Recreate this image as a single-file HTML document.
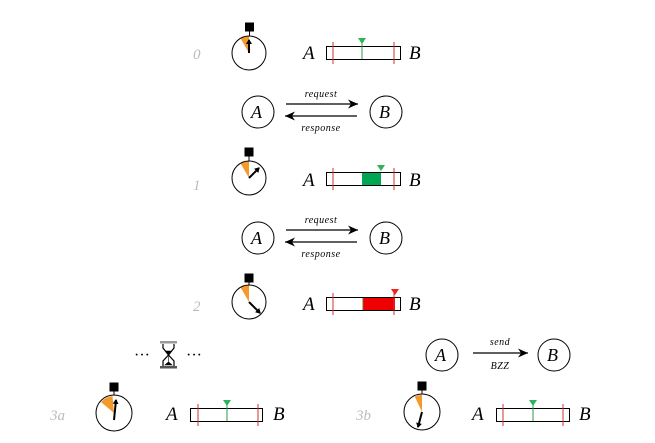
<!DOCTYPE html>
<html><head><meta charset="utf-8"><style>
html,body{margin:0;padding:0;background:#fff;}
svg{display:block;}
text{font-family:"Liberation Serif",serif;font-style:italic;}
</style></head><body>
<svg width="655" height="443" viewBox="0 0 655 443" xmlns="http://www.w3.org/2000/svg">
<defs>
<marker id="ah" markerWidth="12" markerHeight="10" refX="10" refY="5" orient="auto" markerUnits="userSpaceOnUse"><path d="M0,0.5 L10,5 L0,9.5 L3,5 Z" fill="#000"/></marker>
<marker id="hh" markerWidth="6" markerHeight="6" refX="4" refY="3" orient="auto" markerUnits="userSpaceOnUse"><path d="M0,0 L5,3 L0,6 Z" fill="#000"/></marker>
</defs>
<g fill="#bbb" font-size="15">
<text x="193" y="59">0</text><text x="193" y="190">1</text><text x="193" y="311">2</text>
<text x="50" y="420">3a</text><text x="356" y="420">3b</text>
</g>
<g stroke="#000" stroke-width="1">
<rect x="245.5" y="23" width="8" height="8" fill="#000"/><line x1="249.5" y1="31" x2="249.5" y2="36"/>
<path d="M249,53 L240.5,38.3 A17,17 0 0 1 249,36 Z" fill="#f39a2a" stroke="none"/>
<circle cx="249" cy="53" r="17" fill="none"/>
<line x1="249" y1="53" x2="249" y2="40" stroke-width="2" marker-end="url(#hh)"/>
<rect x="245" y="148" width="8" height="8" fill="#000"/><line x1="249" y1="156" x2="249" y2="161"/>
<path d="M249,178 L240.5,163.3 A17,17 0 0 1 249,161 Z" fill="#f39a2a" stroke="none"/>
<circle cx="249" cy="178" r="17" fill="none"/>
<line x1="249" y1="178" x2="259" y2="168" stroke-width="2" marker-end="url(#hh)"/>
<rect x="245" y="274" width="8" height="8" fill="#000"/><line x1="249" y1="282" x2="249" y2="285"/>
<path d="M249,302 L240.5,287.3 A17,17 0 0 1 249,285 Z" fill="#f39a2a" stroke="none"/>
<circle cx="249" cy="302" r="17" fill="none"/>
<line x1="249" y1="302" x2="260" y2="313" stroke-width="2" marker-end="url(#hh)"/>
<rect x="110" y="383" width="8" height="8" fill="#000"/><line x1="114" y1="391" x2="114" y2="395"/>
<path d="M114,413 L101,402.1 A17,17 0 0 1 112.5,396.1 Z" fill="#f39a2a" stroke="none"/>
<circle cx="114" cy="413" r="18" fill="none"/>
<line x1="114" y1="420" x2="116" y2="400" stroke-width="2" marker-end="url(#hh)"/>
<rect x="418" y="382" width="8" height="8" fill="#000"/><line x1="422" y1="390" x2="422" y2="394"/>
<path d="M422,412 L414.8,396.6 A17,17 0 0 1 422,395 Z" fill="#f39a2a" stroke="none"/>
<circle cx="422" cy="412" r="18" fill="none"/>
<line x1="422" y1="412" x2="418" y2="427" stroke-width="2" marker-end="url(#hh)"/>
</g>
<g font-size="19" fill="#000">
<text x="303" y="59">A</text><text x="409" y="59">B</text>
<text x="303" y="186">A</text><text x="409" y="186">B</text>
<text x="303" y="310">A</text><text x="409" y="310">B</text>
<text x="166" y="420">A</text><text x="273" y="420">B</text>
<text x="472" y="420">A</text><text x="579" y="420">B</text>
</g>
<g stroke-width="1">
<rect x="326.5" y="46.5" width="74" height="13" fill="#fff" stroke="#000"/>
<line x1="362" y1="43" x2="362" y2="59" stroke="#2a9a4a"/>
<path d="M358,38 L366,38 L362,44 Z" fill="#2db35a"/>
<line x1="333" y1="42" x2="333" y2="64" stroke="#c33"/><line x1="394" y1="42" x2="394" y2="64" stroke="#c33"/>
<rect x="326.5" y="172.5" width="74" height="13" fill="#fff" stroke="#000"/>
<rect x="362" y="173" width="19" height="12" fill="#00a651"/>
<path d="M377,165 L385,165 L381,171 Z" fill="#2db35a"/>
<line x1="333" y1="168" x2="333" y2="190" stroke="#c33"/><line x1="394" y1="168" x2="394" y2="190" stroke="#c33"/>
<rect x="326.5" y="297.5" width="74" height="13" fill="#fff" stroke="#000"/>
<rect x="363" y="298" width="32" height="12" fill="#ee0000"/>
<line x1="363" y1="298" x2="363" y2="310" stroke="#8a6a00"/>
<path d="M391,289 L399,289 L395,295 Z" fill="#e22"/>
<line x1="333" y1="293" x2="333" y2="315" stroke="#c33"/><line x1="394" y1="293" x2="394" y2="315" stroke="#c33"/>
<rect x="190.5" y="408.5" width="72" height="13" fill="#fff" stroke="#000"/>
<line x1="227" y1="405" x2="227" y2="421" stroke="#2a9a4a"/>
<path d="M223,400 L231,400 L227,406 Z" fill="#2db35a"/>
<line x1="198" y1="404" x2="198" y2="426" stroke="#c33"/><line x1="258" y1="404" x2="258" y2="426" stroke="#c33"/>
<rect x="496.5" y="408.5" width="73" height="13" fill="#fff" stroke="#000"/>
<line x1="533" y1="405" x2="533" y2="421" stroke="#2a9a4a"/>
<path d="M529,400 L537,400 L533,406 Z" fill="#2db35a"/>
<line x1="503" y1="404" x2="503" y2="426" stroke="#c33"/><line x1="563" y1="404" x2="563" y2="426" stroke="#c33"/>
</g>
<g stroke="#000" fill="none" stroke-width="1">
<circle cx="258" cy="112" r="16"/><circle cx="386" cy="112" r="16"/>
<circle cx="258" cy="238" r="16"/><circle cx="386" cy="238" r="16"/>
<circle cx="442" cy="355" r="16"/><circle cx="554" cy="355" r="16"/>
</g>
<g stroke="#000" fill="none" stroke-width="1.3">
<line x1="286" y1="104" x2="358" y2="104" marker-end="url(#ah)"/>
<line x1="357" y1="116" x2="285" y2="116" marker-end="url(#ah)"/>
<line x1="286" y1="230" x2="358" y2="230" marker-end="url(#ah)"/>
<line x1="357" y1="242" x2="285" y2="242" marker-end="url(#ah)"/>
<line x1="473" y1="353" x2="528" y2="353" marker-end="url(#ah)"/>
</g>
<g font-size="18" fill="#000">
<text x="251" y="118">A</text><text x="379" y="118">B</text>
<text x="251" y="244">A</text><text x="379" y="244">B</text>
<text x="435" y="361">A</text><text x="547" y="361">B</text>
</g>
<g font-size="10" fill="#000" text-anchor="middle" letter-spacing="0.5">
<text x="321" y="97">request</text><text x="321" y="131">response</text>
<text x="321" y="223">request</text><text x="321" y="257">response</text>
<text x="500" y="345">send</text><text x="500" y="369">BZZ</text>
</g>
<g font-size="16" fill="#000"><text x="134" y="360" style="font-style:normal">···</text><text x="186" y="360" style="font-style:normal">···</text></g>
<g stroke="#000" fill="none">
<rect x="160" y="341" width="17" height="2.5" fill="#999" stroke="none"/>
<rect x="160" y="366" width="17" height="2.5" fill="#555" stroke="none"/>
<path d="M163,344 L163,348 L168.5,355 L163,361 L163,366 M174,344 L174,348 L168.5,355 L174,361 L174,366" stroke-width="1.2"/>
<path d="M166,351 L171,351 L168.5,354 Z M168.5,356 L168.5,362 L165,365 L172,365 L168.5,362" fill="#000" stroke-width="0.6"/>
</g>
</svg>
</body></html>
